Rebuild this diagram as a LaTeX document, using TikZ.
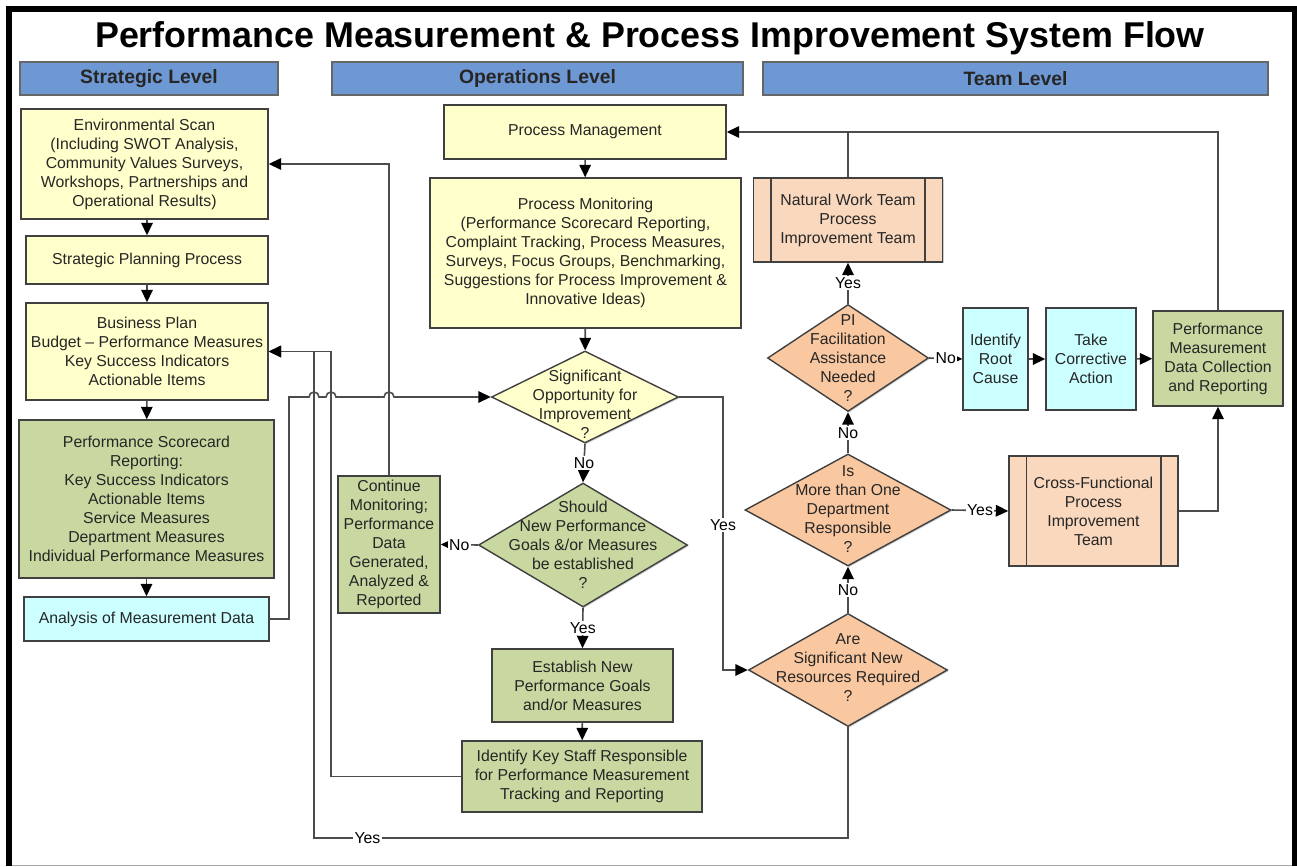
\documentclass[tikz,border=0pt]{standalone}
\usepackage{fontspec}
\setmainfont{Liberation Sans}
\usepackage{xcolor}
\usetikzlibrary{shapes.geometric, arrows.meta, positioning, calc, shadows}

\definecolor{barblue}{RGB}{110,152,212}
\definecolor{procyel}{RGB}{255,255,204}
\definecolor{procgrn}{RGB}{200,216,160}
\definecolor{proccyan}{RGB}{204,255,255}
\definecolor{decpeach}{RGB}{250,200,160}
\definecolor{teampeach}{RGB}{250,216,190}

\begin{document}
\begin{tikzpicture}[
  x=0.2mm, y=-0.2mm,
  base/.style    = {rectangle, draw=black!75, line width=0.8pt, text=black!85,
                    font=\fontsize{9}{10.8}\selectfont, align=center, inner sep=1pt,
                    drop shadow={shadow xshift=0.7pt, shadow yshift=-0.7pt, opacity=0.4}},
  bar/.style     = {base, fill=barblue, draw=black!60, minimum height=0.66cm,
                    font=\fontsize{11}{13}\selectfont\bfseries},
  ybox/.style    = {base, fill=procyel},
  gbox/.style    = {base, fill=procgrn},
  cbox/.style    = {base, fill=proccyan},
  pbox/.style    = {base, fill=teampeach},
  decision/.style= {base, diamond, inner sep=0pt},
  qtext/.style   = {font=\fontsize{9}{10.8}\selectfont, align=center, text=black!85, inner sep=0pt},
  arr/.style     = {draw=black!70, line width=0.9pt,
                    -{Triangle[length=0.25cm, width=0.23cm, color=black]}},
  conn/.style    = {draw=black!70, line width=0.9pt},
  yn/.style      = {fill=white, inner sep=0.8pt, font=\fontsize{9}{10}\selectfont, text=black}
]
\useasboundingbox (0,0) rectangle (1297,867);

% ── Frame and title ───────────────────────────────────────────────────────────
\draw[black!35, line width=0.5pt] (9,865) -- (1294,865);
\draw[line width=0.1cm] (9,866) -- (9,9) -- (1294,9) -- (1294,866);
\node[font=\fontsize{20.4}{24}\selectfont\bfseries, anchor=base] (title) at (650,47)
      {Performance Measurement \& Process Improvement System Flow};

% ── Level headings ────────────────────────────────────────────────────────────
\node[bar, minimum width=5.16cm] (hstrat) at (149,78.5)    {Strategic Level};
\node[bar, minimum width=8.22cm] (hops)   at (537.5,78.5)  {Operations Level};
\node[bar, minimum width=10.1cm] (hteam)  at (1015.5,78.5) {Team Level};

% ── Strategic level ───────────────────────────────────────────────────────────
\node[ybox, minimum width=4.94cm, minimum height=2.2cm] (env) at (144.5,164)
      {Environmental Scan\\(Including SWOT Analysis,\\Community Values Surveys,\\Workshops, Partnerships and\\Operational Results)};
\node[ybox, minimum width=4.84cm, minimum height=0.96cm] (spp) at (147,260)
      {Strategic Planning Process};
\node[ybox, minimum width=4.84cm, minimum height=1.94cm] (bplan) at (147,351.5)
      {Business Plan\\Budget -- Performance Measures\\Key Success Indicators\\Actionable Items};
\node[gbox, minimum width=5.1cm, minimum height=3.16cm] (score) at (146.5,499)
      {Performance Scorecard\\Reporting:\\Key Success Indicators\\Actionable Items\\Service Measures\\Department Measures\\Individual Performance Measures};
\node[cbox, minimum width=4.9cm, minimum height=0.88cm] (analysis) at (146.5,619)
      {Analysis of Measurement Data};

% ── Operations level ──────────────────────────────────────────────────────────
\node[ybox, minimum width=5.64cm, minimum height=1.08cm] (pmgmt) at (585,132)
      {Process Management};
\node[ybox, minimum width=6.22cm, minimum height=3.0cm] (pmon) at (585.5,253)
      {Process Monitoring\\(Performance Scorecard Reporting,\\Complaint Tracking, Process Measures,\\Surveys, Focus Groups, Benchmarking,\\Suggestions for Process Improvement \&\\Innovative Ideas)};
\node[decision, fill=procyel, minimum width=3.74cm, minimum height=1.84cm] (sigq) at (585,397) {};
\node[qtext] (sigq-t) at (585,404) {Significant\\Opportunity for\\Improvement\\?};
\node[decision, fill=procgrn, minimum width=4.18cm, minimum height=2.48cm] (newq) at (583,545) {};
\node[qtext] (newq-t) at (583,545) {Should\\New Performance\\Goals \&/or Measures\\be established\\?};
\node[gbox, minimum width=2.04cm, minimum height=2.74cm] (contmon) at (389,544.5)
      {Continue\\Monitoring;\\Performance\\Data\\Generated,\\Analyzed \&\\Reported};
\node[gbox, minimum width=3.62cm, minimum height=1.46cm] (estab) at (582.5,685.5)
      {Establish New\\Performance Goals\\and/or Measures};
\node[gbox, minimum width=4.8cm, minimum height=1.42cm] (staff) at (582,776.5)
      {Identify Key Staff Responsible\\for Performance Measurement\\Tracking and Reporting};

% ── Team level ────────────────────────────────────────────────────────────────
\node[pbox, minimum width=3.78cm, minimum height=1.68cm] (nwt) at (848,220)
      {Natural Work Team\\Process\\Improvement Team};
\node[decision, fill=decpeach, minimum width=3.22cm, minimum height=2.14cm] (piq) at (848,358) {};
\node[qtext] (piq-t) at (848,358) {PI\\Facilitation\\Assistance\\Needed\\?};
\node[cbox, minimum width=1.3cm, minimum height=2.04cm] (root) at (995.5,359)
      {Identify\\Root\\Cause};
\node[cbox, minimum width=1.8cm, minimum height=2.04cm] (corr) at (1091,359)
      {Take\\Corrective\\Action};
\node[gbox, minimum width=2.6cm, minimum height=1.9cm] (pmd) at (1218,358.5)
      {Performance\\Measurement\\Data Collection\\and Reporting};
\node[decision, fill=decpeach, minimum width=4.12cm, minimum height=2.24cm] (moreq) at (848,510) {};
\node[qtext] (moreq-t) at (848,509) {Is\\More than One\\Department\\Responsible\\?};
\node[pbox, minimum width=3.38cm, minimum height=2.2cm] (cft) at (1093.5,511)
      {Cross-Functional\\Process\\Improvement\\Team};
\node[decision, fill=decpeach, minimum width=3.98cm, minimum height=2.26cm] (resq) at (848,670) {};
\node[qtext] (resq-t) at (848,668) {Are\\Significant New\\Resources Required\\?};

% side bars of the team boxes
\foreach \n in {nwt, cft} {
  \draw[conn, draw=black!75] ($(\n.north west)+(18,0)$) -- ($(\n.south west)+(18,0)$);
  \draw[conn, draw=black!75] ($(\n.north east)+(-18,0)$) -- ($(\n.south east)+(-18,0)$);
}

% ── Bus points ────────────────────────────────────────────────────────────────
\coordinate (busA) at (331,351.5);
\coordinate (busB) at (314,351.5);
\coordinate (yesTop) at (723,397);

% ── Arrows: strategic column ─────────────────────────────────────────────────
\draw[arr] (spp.north |- env.south) -- (spp.north);
\draw[arr] (spp)   -- (bplan);
\draw[arr] (bplan) -- (score);
\draw[arr] (score) -- (analysis);

% ── Feedback into planning ───────────────────────────────────────────────────
\draw[arr] (contmon.north) |- (env.east);
\draw[arr] (staff.west) -| (busA) -- (bplan.east);
\draw[arr] (resq.south) -- (848,838) -- node[yn, pos=0.9] {Yes} (314,838) -- (busB) -- (bplan.east);

% analysis feeds the first decision, hopping over the bus lines
\draw[arr] (analysis.east) -- (289,619) -- (289,397)
      -- (309,397) arc[start angle=180, end angle=0, radius=0.1cm]
      -- (326,397) arc[start angle=180, end angle=0, radius=0.1cm]
      -- (384,397) arc[start angle=180, end angle=0, radius=0.1cm]
      -- (sigq.west);

% ── Arrows: operations column ────────────────────────────────────────────────
\draw[arr] (pmgmt) -- (pmon);
\draw[arr] (pmon)  -- (sigq);
\draw[arr] (sigq.south) -- node[yn] {No}  (newq.north);
\draw[arr] (newq.west)  -- node[yn] {No}  (contmon.east);
\draw[arr] (newq.south) -- node[yn] {Yes} (estab.north);
\draw[arr] (estab) -- (staff);
\draw[arr] (sigq.east) -- (yesTop) |- node[yn, pos=0.234] {Yes} (resq.west);

% ── Arrows: team column ──────────────────────────────────────────────────────
\draw[arr] (resq.north)  -- node[yn] {No}  (moreq.south);
\draw[arr] (moreq.north) -- node[yn] {No}  (piq.south);
\draw[arr] (moreq.east)  -- node[yn] {Yes} (cft.west);
\draw[arr] (piq.north)   -- node[yn] {Yes} (nwt.south);
\draw[arr] (piq.east)    -- node[yn] {No}  (root.west);
\draw[arr] (root) -- (corr);
\draw[arr] (corr) -- (pmd);
\draw[arr] (cft.east) -| (pmd.south);
\draw[arr] (pmd.north) |- (pmgmt.east);
\draw[conn] (nwt.north) -- (nwt.north |- pmgmt.east);
\end{tikzpicture}
\end{document}
